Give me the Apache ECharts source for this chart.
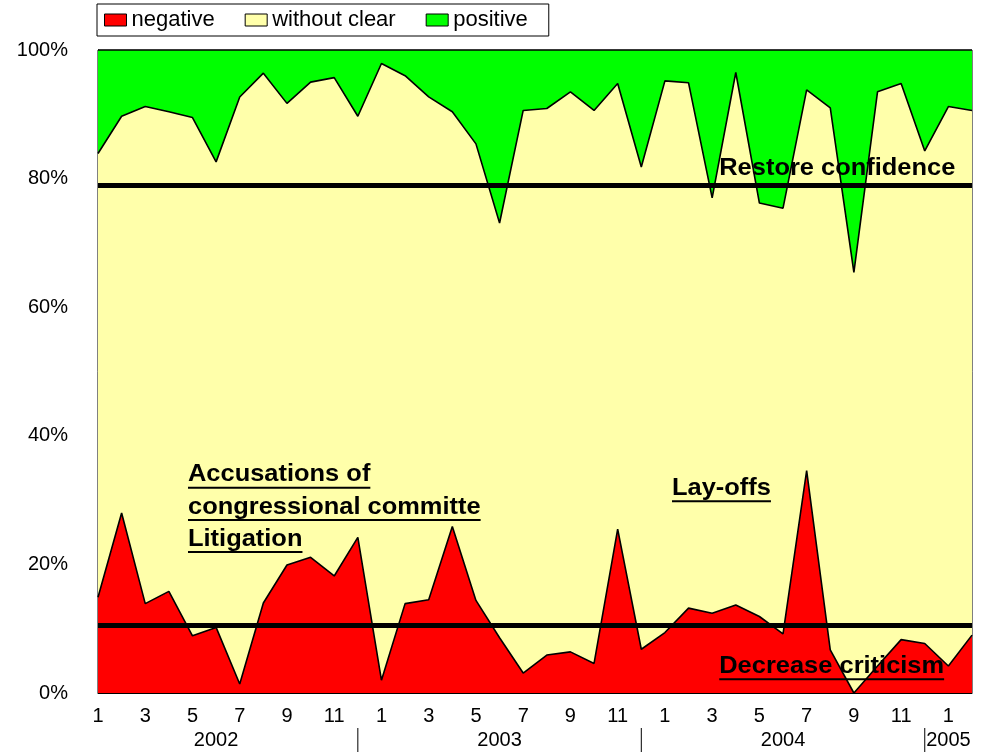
<!DOCTYPE html>
<html>
<head>
<meta charset="utf-8">
<script src="https://cdn.jsdelivr.net/npm/echarts@6/dist/echarts.min.js"></script>
<style>html,body{margin:0;padding:0;background:#fff}#c{width:982px;height:752px}</style>
</head>
<body>
<div id="c"></div>
<script>
// ---- data ----
const months = ['1','2','3','4','5','6','7','8','9','10','11','12',
                '1','2','3','4','5','6','7','8','9','10','11','12',
                '1','2','3','4','5','6','7','8','9','10','11','12',
                '1','2'];
const years = ['2002','2003','2004','2005'];
const monthsInYear = [12, 12, 12, 2];
const negative = [14.9,28.0,13.9,15.8,8.9,10.2,1.4,14.0,19.9,21.1,18.2,24.2,
                  2.0,13.9,14.5,25.9,14.4,8.6,3.1,5.9,6.4,4.6,25.5,6.8,
                  9.4,13.2,12.4,13.7,11.9,9.2,34.6,6.7,0.0,4.2,8.3,7.7,
                  4.2,9.0];
const withoutClear = [69.0,61.7,77.3,74.6,80.6,72.4,91.3,82.4,71.8,73.9,77.5,65.5,
                      95.9,82.1,78.2,64.5,71.0,64.5,87.5,85.0,87.1,86.0,69.3,75.0,
                      85.8,81.7,64.6,82.8,64.3,66.2,59.2,84.3,65.4,89.3,86.5,76.6,
                      87.0,81.6];
const positive = [16.1,10.3,8.8,9.6,10.5,17.4,7.3,3.6,8.3,5.0,4.3,10.3,
                  2.1,4.0,7.3,9.6,14.6,26.9,9.4,9.1,6.5,9.4,5.2,18.2,
                  4.8,5.1,23.0,3.5,23.8,24.6,6.2,9.0,34.6,6.5,5.2,15.7,
                  8.8,9.4];
const thresholds = [79.0, 10.5];
const annotationTexts = ['Restore confidence','Accusations of','congressional committe','Litigation','Lay-offs','Decrease criticism'];

const FONT = "'Liberation Sans', Arial, Helvetica, sans-serif";

const chart = echarts.init(document.getElementById('c'), null, {renderer: 'canvas'});

const option = {
  animation: false,
  backgroundColor: '#fff',
  grid: {left: 98, right: 10, top: 50, bottom: 59, show: true, borderColor: '#000', borderWidth: 1, backgroundColor: 'transparent'},
  legend: {
    left: 97, top: 4, orient: 'horizontal', icon: 'rect',
    itemWidth: 22, itemHeight: 12, itemGap: 30,
    padding: [5, 21, 5, 7],
    borderColor: '#000', borderWidth: 1, backgroundColor: '#fff',
    selectedMode: false,
    textStyle: {fontSize: 22, color: '#000', fontFamily: FONT},
    itemStyle: {borderColor: '#000', borderWidth: 1},
    data: ['negative', 'without clear', 'positive']
  },
  xAxis: {
    type: 'category', data: months, boundaryGap: false,
    axisLine: {show: true, lineStyle: {color: '#000', width: 1}},
    axisTick: {show: false},
    splitLine: {show: false},
    axisLabel: {interval: 1, color: '#000', fontSize: 20, fontFamily: FONT, margin: 13}
  },
  yAxis: {
    type: 'value', min: 0, max: 100, interval: 20,
    axisLine: {show: true, lineStyle: {color: '#000', width: 1}},
    axisTick: {show: false},
    splitLine: {show: false},
    axisLabel: {formatter: '{value}%', color: '#000', fontSize: 20, fontFamily: FONT, margin: 30}
  },
  series: [
    {name: 'negative', type: 'line', stack: 'total', data: negative, symbol: 'none',
     lineStyle: {color: '#000', width: 1.6}, itemStyle: {color: '#FF0000'},
     areaStyle: {color: '#FF0000', opacity: 1}},
    {name: 'without clear', type: 'line', stack: 'total', data: withoutClear, symbol: 'none',
     lineStyle: {color: '#000', width: 1.6}, itemStyle: {color: '#FFFFAA'},
     areaStyle: {color: '#FFFFAA', opacity: 1}},
    {name: 'positive', type: 'line', stack: 'total', data: positive, symbol: 'none',
     lineStyle: {color: '#000', width: 1.6}, itemStyle: {color: '#00FF00'},
     areaStyle: {color: '#00FF00', opacity: 1},
     markLine: {silent: true, symbol: ['none', 'none'], label: {show: false},
       lineStyle: {color: '#000', width: 5, type: 'solid'},
       data: thresholds.map(v => ({yAxis: v}))}}
  ]
};
chart.setOption(option);

// ---- year labels, separators, annotations ----
const px0 = chart.convertToPixel({xAxisIndex: 0}, 0);
const pxN = chart.convertToPixel({xAxisIndex: 0}, months.length - 1);
const pxAt = i => px0 + i * (pxN - px0) / (months.length - 1);
const yBase = chart.convertToPixel({yAxisIndex: 0}, 0);
const yTop = chart.convertToPixel({yAxisIndex: 0}, 100);
const pyAt = v => yBase + (yTop - yBase) * v / 100;

const graphics = [];
let start = 0;
years.forEach((yr, k) => {
  const end = start + monthsInYear[k] - 1;
  const center = (start - 1 + end) / 2;
  graphics.push({type: 'text', x: pxAt(center), y: yBase + 47, z: 100,
    style: {text: yr, font: '20px ' + FONT, fill: '#000', align: 'center', verticalAlign: 'middle'}});
  if (k < years.length - 1) {
    graphics.push({type: 'line', z: 100, shape: {x1: pxAt(end), y1: yBase + 35, x2: pxAt(end), y2: yBase + 59},
      style: {stroke: '#000', lineWidth: 1}});
  }
  start = end + 1;
});

const ctx = document.createElement('canvas').getContext('2d');
const annFont = 'bold 24px ' + FONT;
const annStretch = 1.06;
ctx.font = annFont;
// annotation anchors: [category index, value %, underline]
const annAnchors = [
  [26.3, 80.3, false],
  [3.81, 32.7, true],
  [3.81, 27.7, true],
  [3.81, 22.7, true],
  [24.3, 30.6, true],
  [26.3, 2.9, true]
];
annotationTexts.forEach((t, i) => {
  const [ci, v, ul] = annAnchors[i];
  const x = pxAt(ci), yb = pyAt(v);
  graphics.push({type: 'text', x: x, y: yb - 8, z: 100, scaleX: annStretch,
    style: {text: t, font: annFont, fill: '#000', align: 'left', verticalAlign: 'middle'}});
  if (ul) {
    const w = ctx.measureText(t).width * annStretch;
    graphics.push({type: 'rect', z: 100, shape: {x: x, y: yb + 4, width: w, height: 2}, style: {fill: '#000'}});
  }
});
chart.setOption({graphic: graphics});
</script>
</body>
</html>
